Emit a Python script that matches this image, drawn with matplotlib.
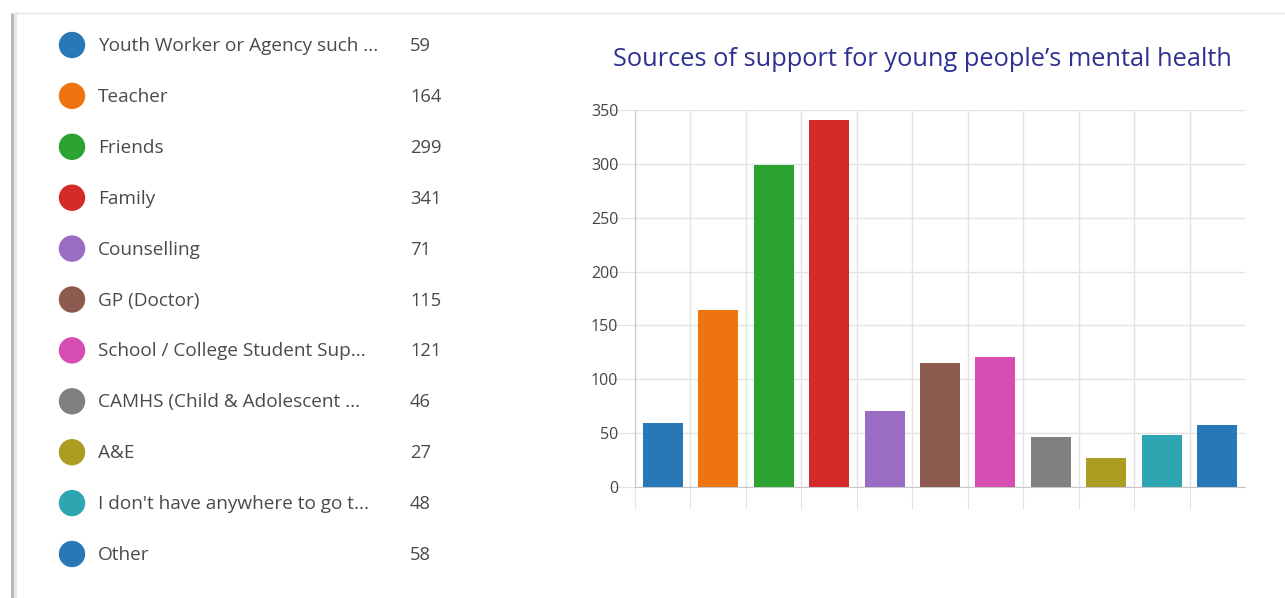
import matplotlib
matplotlib.use("Agg")
import matplotlib.pyplot as plt
from matplotlib.lines import Line2D
from matplotlib.patches import Circle

categories = ["Youth Worker or Agency such ...", "Teacher", "Friends", "Family",
              "Counselling", "GP (Doctor)", "School / College Student Sup...",
              "CAMHS (Child & Adolescent ...", "A&E",
              "I don't have anywhere to go t...", "Other"]
values = [59, 164, 299, 341, 71, 115, 121, 46, 27, 48, 58]
colors = ["#2878b8", "#ee7410", "#2ca330", "#d62a2a", "#9a6cc4", "#8c5a4e",
          "#d84db2", "#808080", "#aa9d22", "#2ea6b2", "#2878b8"]
yticks = [0, 50, 100, 150, 200, 250, 300, 350]
title = "Sources of support for young people\u2019s mental health"

W, H = 1285, 598
fig = plt.figure(figsize=(W / 100, H / 100), dpi=100)
fig.patch.set_facecolor("white")

def fx(px):
    return px / W

def fy(py):
    return 1 - py / H

# panel border
fig.add_artist(Line2D([fx(12), fx(12)], [fy(14), 0], color="#b8b8b8", lw=2.2))
fig.add_artist(Line2D([fx(15), fx(15)], [fy(14), 0], color="#e6e6e6", lw=2))
fig.add_artist(Line2D([fx(12), 1], [fy(13), fy(13)], color="#e4e4e4", lw=1))

# legend list
for i, (cat, val, col) in enumerate(zip(categories, values, colors)):
    yy = 45 + i * 50.9
    fig.add_artist(Circle((72, H - yy), 12.5, color=col, transform=None))
    fig.text(fx(98), fy(yy + 1), cat, fontsize=13.7, family="Open Sans",
             color="#4a4a4a", va="center", ha="left")
    fig.text(fx(410), fy(yy + 1), str(val), fontsize=13.2, family="Open Sans",
             color="#4a4a4a", va="center", ha="left")

# chart
ax = fig.add_axes([fx(635), fy(487), fx(1245) - fx(635), (487 - 110) / H])
x = list(range(len(values)))
ax.bar(x, values, width=0.72, color=colors, zorder=3)
ax.set_xlim(-0.5, len(values) - 0.5)
ax.set_ylim(0, 350)
ax.set_yticks(yticks)
ax.set_xticks([i - 0.5 for i in range(len(values))])
ax.set_xticklabels([])
ax.grid(True, color="#e3e3e3", lw=1, zorder=0)
for s in ["top", "right"]:
    ax.spines[s].set_visible(False)
ax.spines["left"].set_color("#c8c8c8")
ax.spines["bottom"].set_color("#c8c8c8")
ax.tick_params(axis="y", length=17, color="#e3e3e3", labelsize=11.5,
               labelcolor="#444444", pad=-5)
ax.tick_params(axis="x", length=16, color="#e3e3e3")
for lab in ax.get_yticklabels():
    lab.set_family("Open Sans")

fig.text(fx(922), fy(60), title, fontsize=18.3, family="Open Sans",
         color="#2e3192", ha="center", va="center")

fig.savefig("out.png", dpi=100)
